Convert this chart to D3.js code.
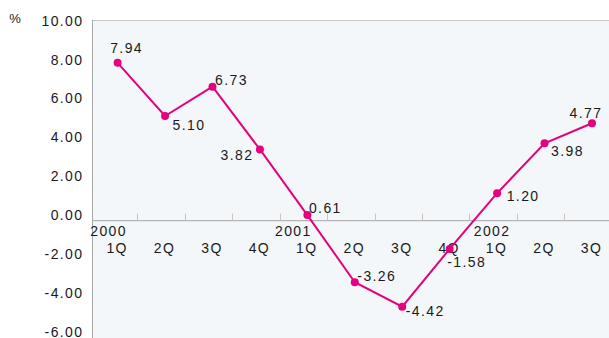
<!DOCTYPE html>
<html><head><meta charset="utf-8">
<script src="https://cdn.jsdelivr.net/npm/d3@7"></script>
<style>
html,body{margin:0;padding:0;background:#fff;}
svg text{font-family:"Liberation Sans",Arial,sans-serif;font-size:14px;fill:#1a1a1a;letter-spacing:1.4px;}
</style></head>
<body><svg id="c" width="609" height="338"></svg>
<script>
// ---- data ----
const quarters = ["1Q","2Q","3Q","4Q","1Q","2Q","3Q","4Q","1Q","2Q","3Q"];
const years = ["2000","","","","2001","","","","2002","",""];
const values = [7.98, 5.28, 6.77, 3.58, 0.25, -3.16, -4.40, -1.47, 1.36, 3.89, 4.91];
const valueLabels = ["7.94","5.10","6.73","3.82","0.61","-3.26","-4.42","-1.58","1.20","3.98","4.77"];
const yTicks = [10, 8, 6, 4, 2, 0, -2, -4, -6];
// ---- styles (label offsets relative to marker) ----
const labelOffsets = [[9,-15],[24,9],[19,-7],[-23,6],[18,-7],[22,-6],[23,4],[17,13],[26,3],[23,8],[-6,-10]];
const yearOffsets = {"2000":[-5,0],"2001":[-10,0],"2002":[-1,0]};

const svg = d3.select("#c");
const W = 609, H = 338;
const plotLeft = 92.5, plotTop = 20;
const color = "#e5007d";

const x = d3.scaleBand().domain(d3.range(quarters.length)).range([89.9, 611.7]).padding(0);
const y = d3.scaleLinear().domain([0, 10]).range([220, 23]);
const yl = d3.scaleLinear().domain([0, 10]).range([215, 20.7]);
const cx = i => x(i) + x.bandwidth()/2 + 4;

// plot background
svg.append("rect").attr("x", plotLeft).attr("y", plotTop).attr("width", W - plotLeft).attr("height", H - plotTop)
  .attr("fill", "#f4f7f9");
svg.append("line").attr("x1", plotLeft).attr("x2", W).attr("y1", plotTop + 0.5).attr("y2", plotTop + 0.5)
  .attr("stroke", "#c9c9c9").attr("stroke-width", 1);
svg.append("line").attr("x1", plotLeft).attr("x2", plotLeft).attr("y1", plotTop).attr("y2", H)
  .attr("stroke", "#a8a8a8").attr("stroke-width", 1);

// y tick labels
svg.append("g").selectAll("text").data(yTicks).join("text")
  .attr("x", 83.5).attr("y", d => yl(d))
  .attr("text-anchor", "end").attr("dominant-baseline", "central")
  .text(d => d.toFixed(2));
svg.append("text").attr("x", 15).attr("y", 18.5).attr("text-anchor", "middle")
  .attr("dominant-baseline", "central").style("letter-spacing", "0").style("font-size", "13px").text("%");

// zero axis line with ticks
const zeroY = y(0) + 0.7;
svg.append("line").attr("x1", plotLeft).attr("x2", W).attr("y1", zeroY).attr("y2", zeroY)
  .attr("stroke", "#b4b4b4").attr("stroke-width", 1.2);
svg.append("g").selectAll("line").data(d3.range(1, quarters.length)).join("line")
  .attr("x1", d => Math.round(x(d)) + 0.5).attr("x2", d => Math.round(x(d)) + 0.5)
  .attr("y1", zeroY - 7).attr("y2", zeroY)
  .attr("stroke", "#c4c4c4").attr("stroke-width", 1);

// category labels
svg.append("g").selectAll("text").data(quarters).join("text")
  .attr("x", (d, i) => x(i) + x.bandwidth()/2 + 3.5).attr("y", 247.5)
  .attr("text-anchor", "middle").attr("dominant-baseline", "central")
  .text(d => d);
svg.append("g").selectAll("text").data(years.map((d, i) => ({d, i})).filter(o => o.d)).join("text")
  .attr("x", o => x(o.i) + x.bandwidth()/2 + yearOffsets[o.d][0])
  .attr("y", 230.5)
  .attr("text-anchor", "middle").attr("dominant-baseline", "central")
  .text(o => o.d);

// line
const line = d3.line().x((d, i) => cx(i)).y(d => y(d));
svg.append("path").datum(values).attr("d", line)
  .attr("fill", "none").attr("stroke", color).attr("stroke-width", 2);
svg.append("g").selectAll("circle").data(values).join("circle")
  .attr("cx", (d, i) => cx(i)).attr("cy", d => y(d)).attr("r", 4)
  .attr("fill", color);

// value labels
svg.append("g").selectAll("text").data(valueLabels).join("text")
  .attr("x", (d, i) => cx(i) + labelOffsets[i][0])
  .attr("y", (d, i) => y(values[i]) + labelOffsets[i][1])
  .attr("text-anchor", "middle").attr("dominant-baseline", "central")
  .text(d => d);
</script></body></html>
